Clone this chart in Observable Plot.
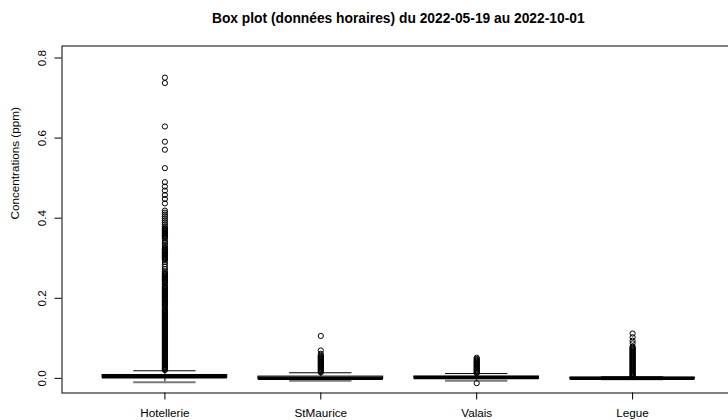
<!DOCTYPE html>
<html><head><meta charset="utf-8">
<script src="https://cdn.jsdelivr.net/npm/d3@7"></script>
<script src="https://cdn.jsdelivr.net/npm/@observablehq/plot@0.6"></script>
<style>
html,body{margin:0;padding:0;background:#fff;overflow:hidden;}
#title{position:relative;width:728px;height:32px;font-family:"Liberation Sans",Arial,sans-serif;}
#title span{position:absolute;left:61.5px;right:-7px;top:11.6px;text-align:center;font-weight:bold;font-size:13.8px;line-height:13.8px;white-space:nowrap;color:#000;}
</style></head><body>
<div id="title"><span>Box plot (données horaires) du 2022-05-19 au 2022-10-01</span></div>
<div id="chart"></div>
<script>
const stations = ["Hotellerie", "StMaurice", "Valais", "Legue"];
const q1 = [0.0015, -0.002, -0.0005, -0.0005];
const median = [0.004, 0.0005, 0.002, 0.0005];
const q3 = [0.0085, 0.0045, 0.0045, 0.0015];
const whiskerLow = [-0.0095, -0.006, -0.006, -0.002];
const whiskerHigh = [0.019, 0.014, 0.012, 0.004];
const yTicks = [0.0, 0.2, 0.4, 0.6, 0.8];
const yLabel = "Concentrations (ppm)";

const hotellerieOut = [0.751, 0.7375, 0.629, 0.591, 0.571, 0.525,
  0.490, 0.479, 0.469, 0.458, 0.448, 0.437,
  0.419, 0.414, 0.409, 0.404, 0.399, 0.394, 0.389, 0.384, 0.379,
  0.375, 0.373, 0.371, 0.369, 0.367, 0.365, 0.363, 0.361, 0.359, 0.357, 0.355, 0.353,
  0.349, 0.343, 0.338, 0.333, 0.328,
  0.324, 0.322, 0.320, 0.318, 0.316, 0.314, 0.312, 0.310, 0.308, 0.306, 0.304, 0.302, 0.300, 0.298, 0.296,
  0.291, 0.285, 0.279, 0.273, 0.267,
  0.263, 0.261, 0.259, 0.257, 0.255, 0.253, 0.251, 0.249, 0.247, 0.245, 0.243, 0.241, 0.238,
  0.234, 0.230, 0.228, 0.226, 0.224, 0.222, 0.220, 0.218, 0.216, 0.214, 0.212, 0.210, 0.208,
  0.206, 0.204, 0.202, 0.200, 0.198, 0.196, 0.194, 0.192, 0.190, 0.188, 0.186, 0.184, 0.182,
  0.179, 0.175, 0.172, 0.170, 0.168, 0.166, 0.164, 0.162, 0.160, 0.158, 0.156, 0.154, 0.152,
  0.150, 0.148, 0.146, 0.144, 0.142, 0.140, 0.138, 0.136, 0.134, 0.132, 0.130, 0.128, 0.126,
  0.124, 0.122, 0.120, 0.118, 0.116, 0.114, 0.112, 0.110, 0.108, 0.106, 0.104, 0.102, 0.100,
  0.098, 0.096, 0.094, 0.092, 0.090, 0.088, 0.086, 0.084, 0.082, 0.080, 0.078, 0.076, 0.074,
  0.072, 0.070, 0.068, 0.066, 0.064, 0.062, 0.060, 0.058, 0.056, 0.054, 0.052, 0.050, 0.048,
  0.046, 0.044, 0.042, 0.040, 0.038, 0.036, 0.034, 0.032, 0.030, 0.028, 0.026, 0.024, 0.022, 0.021];
const stmauriceOut = [0.106, 0.0697, 0.0614, 0.057, 0.055, 0.053, 0.051, 0.049, 0.047, 0.045,
  0.043, 0.041, 0.039, 0.037, 0.035, 0.033, 0.031, 0.029, 0.027, 0.025, 0.023, 0.021, 0.019,
  0.017, 0.015];
const valaisOut = [0.0515, 0.0485, 0.046, 0.044, 0.042, 0.040, 0.038, 0.036, 0.034, 0.032,
  0.030, 0.028, 0.026, 0.024, 0.022, 0.020, 0.018, 0.016, 0.014, 0.013, -0.012];
const legueOut = [0.112, 0.1025, 0.094, 0.0875, 0.079, 0.077, 0.075, 0.073, 0.071, 0.069,
  0.067, 0.065, 0.063, 0.061, 0.059, 0.057, 0.055, 0.053, 0.051, 0.049, 0.047, 0.045, 0.043,
  0.041, 0.039, 0.037, 0.035, 0.033, 0.031, 0.029, 0.027, 0.025, 0.023, 0.021, 0.019, 0.017,
  0.015, 0.013, 0.011, 0.009, 0.007, 0.005];

const boxes = stations.map((name, i) => ({
  name, pos: i + 1, q1: q1[i], med: median[i], q3: q3[i], lo: whiskerLow[i], hi: whiskerHigh[i]
}));
const outliers = [hotellerieOut, stmauriceOut, valaisOut, legueOut]
  .flatMap((arr, i) => arr.map(v => ({pos: i + 1, value: v})));

const font = '"Liberation Sans", Arial, sans-serif';
const chart = Plot.plot({
  width: 728, height: 388,
  marginLeft: 61.5, marginRight: -7, marginTop: 13.5, marginBottom: 27.5,
  style: {fontFamily: font, fontSize: "11.7px", background: "white", color: "#000", overflow: "visible"},
  x: {domain: [0.34, 4.66], axis: null},
  y: {domain: [-0.0365, 0.830], axis: null},
  marks: [
    Plot.frame({stroke: "#000", strokeWidth: 1}),
    Plot.ruleX(boxes, {x: "pos", y1: "q3", y2: "hi", stroke: "#000"}),
    Plot.ruleX(boxes, {x: "pos", y1: "lo", y2: "q1", stroke: "#000"}),
    Plot.ruleY(boxes, {y: "hi", x1: d => d.pos - 0.2, x2: d => d.pos + 0.2, stroke: "#000"}),
    Plot.ruleY(boxes, {y: "lo", x1: d => d.pos - 0.2, x2: d => d.pos + 0.2, stroke: "#7a7a7a", strokeWidth: 2}),
    Plot.rect(boxes, {x1: d => d.pos - 0.4, x2: d => d.pos + 0.4, y1: "q1", y2: "q3", stroke: "#000", fill: "none"}),
    Plot.ruleY(boxes, {y: "med", x1: d => d.pos - 0.4, x2: d => d.pos + 0.4, stroke: "#000", strokeWidth: 3.5}),
    Plot.dot(outliers, {x: "pos", y: "value", r: 2.6, stroke: "#000", strokeWidth: 1, fill: "none"}),
    Plot.axisX(boxes.map(d => d.pos), {tickSize: 7, tickPadding: 8.7, tickFormat: d => stations[d - 1], label: null, fontSize: 11.7}),
    Plot.axisY(yTicks, {tickSize: 7, tickPadding: 9.5, tickRotate: -90, tickFormat: d3.format(".1f"), label: null, fontSize: 11.7}),
    Plot.text([yLabel], {text: d => d, frameAnchor: "left", dx: -46.7, rotate: -90, fontSize: 11.7, fill: "#000"})
  ]
});
document.getElementById("chart").appendChild(chart);
</script>
</body></html>
